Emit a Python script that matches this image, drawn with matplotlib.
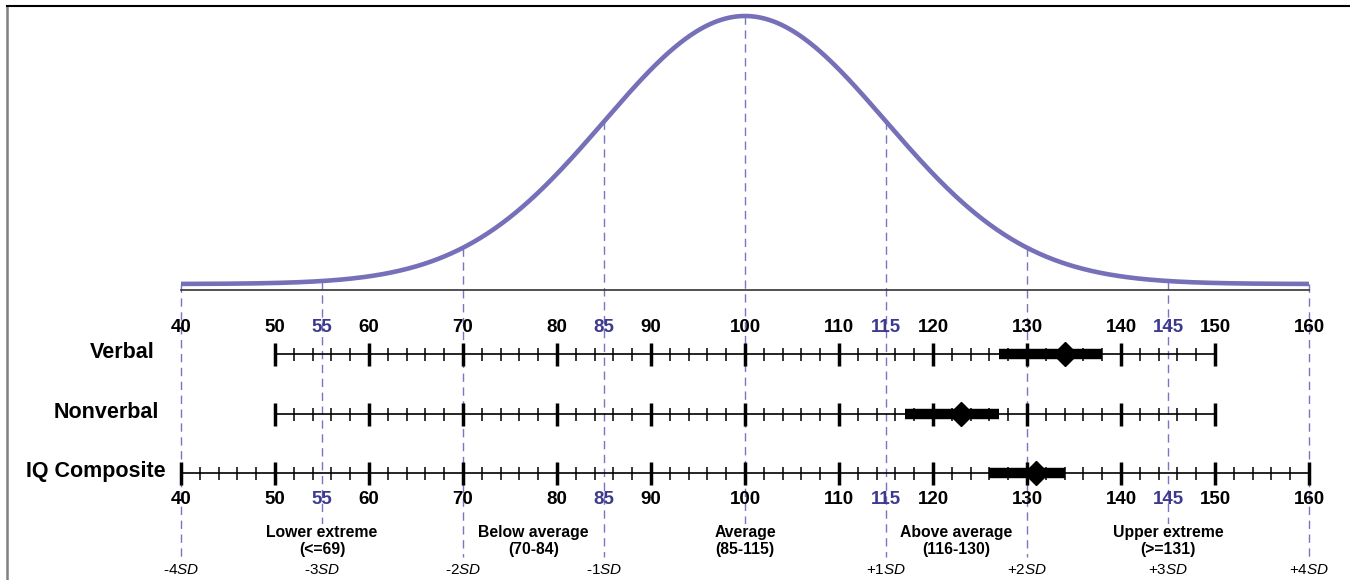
import numpy as np
import matplotlib
matplotlib.use('Agg')
import matplotlib.pyplot as plt

plt.rcParams['font.family'] = ['Liberation Sans', 'DejaVu Sans']
plt.rcParams['mathtext.fontset'] = 'custom'
plt.rcParams['mathtext.rm'] = 'Liberation Sans'
plt.rcParams['mathtext.it'] = 'Liberation Sans:italic'

# datos del grafico
mean_iq = 100
sd_iq = 15
sd_points = [40, 55, 70, 85, 100, 115, 130, 145, 160]
sd_labels = ['\u20104', '\u20103', '\u20102', '\u20101', '', '+1', '+2', '+3', '+4']
tick_labels = [40, 50, 55, 60, 70, 80, 85, 90, 100, 110, 115, 120, 130, 140, 145, 150, 160]
blue_ticks = [55, 85, 115, 145]

rows = ['Verbal', 'Nonverbal', 'IQ Composite']
row_lo = [50, 50, 40]
row_hi = [150, 150, 160]
scores = [134, 123, 131]
ci_lo = [127, 117, 126]
ci_hi = [138, 127, 134]

band_edges = [40, 70, 85, 115, 130, 160]
band_names = ['Lower extreme\n(<=69)', 'Below average\n(70-84)', 'Average\n(85-115)',
              'Above average\n(116-130)', 'Upper extreme\n(>=131)']

# colores
curve_col = '#7670b8'
dash_col = '#7b74c4'
blue_col = '#3d3a8e'

fig = plt.figure(figsize=(13.5, 5.8), dpi=100)
ax = fig.add_axes([0, 0, 1, 1])
px = 9.4  # pixeles por punto de CI
ax.set_xlim(40 - 181 / px, 40 + (1350 - 181) / px)
ax.set_ylim(580, 0)
ax.axis('off')

# marco
ax.plot([7 / 1350, 7 / 1350], [0, 1 - 6 / 580], transform=ax.transAxes, color='#808080', lw=1.8, clip_on=False)
ax.plot([7 / 1350, 1], [1 - 6 / 580, 1 - 6 / 580], transform=ax.transAxes, color='black', lw=1.5, clip_on=False)

# curva normal
base, height = 284, 268
xs = np.linspace(40, 160, 800)
curve = base - height * np.exp(-0.5 * ((xs - mean_iq) / sd_iq) ** 2)
ax.plot(xs, curve, color=curve_col, lw=3.3, solid_capstyle='butt', zorder=3)
ax.plot([40, 160], [290, 290], color='#333333', lw=1.2, zorder=2)

# lineas verticales de SD
for v in sd_points:
    ytop = base - height * np.exp(-0.5 * ((v - mean_iq) / sd_iq) ** 2)
    ax.plot([v, v], [ytop, 557], color=dash_col, lw=1.0, dashes=(6, 4), zorder=1)

# escalas
row_y = [354, 414, 473]
for i, name in enumerate(rows):
    y = row_y[i]
    ax.plot([row_lo[i], row_hi[i]], [y, y], color='black', lw=1.2, zorder=4)
    for t in range(row_lo[i], row_hi[i] + 1, 2):
        if t % 10 == 0:
            ax.plot([t, t], [y - 11.5, y + 11.5], color='black', lw=2.5, solid_capstyle='butt', zorder=4)
        else:
            ax.plot([t, t], [y - 6.5, y + 6.5], color='black', lw=1.1, solid_capstyle='butt', zorder=4)
    ax.plot([ci_lo[i], ci_hi[i]], [y, y], color='black', lw=7.5, solid_capstyle='butt', zorder=5)
    ax.plot(scores[i], y, marker='D', color='black', markersize=12, zorder=6)

ax.text(40 + (155 - 181) / px, row_y[0] - 1, rows[0], ha='right', va='center', fontsize=15.5, fontweight='bold')
ax.text(40 + (159 - 181) / px, row_y[1] - 1, rows[1], ha='right', va='center', fontsize=15.5, fontweight='bold')
ax.text(40 + (166 - 181) / px, row_y[2] - 1, rows[2], ha='right', va='center', fontsize=15.5, fontweight='bold')

# numeros arriba y abajo
for t in tick_labels:
    c = blue_col if t in blue_ticks else 'black'
    ax.text(t, 327, str(t), ha='center', va='center', fontsize=13.5, fontweight='bold', color=c, zorder=7)
    ax.text(t, 499, str(t), ha='center', va='center', fontsize=13.5, fontweight='bold', color=c, zorder=7)

# categorias
for j, name in enumerate(band_names):
    cx = (band_edges[j] + band_edges[j + 1]) / 2
    ax.text(cx, 541, name, ha='center', va='center', fontsize=11.3, fontweight='bold', linespacing=1.15,
            bbox=dict(facecolor='white', edgecolor='none', pad=0.5), zorder=8)

# etiquetas SD
for v, lab in zip(sd_points, sd_labels):
    if lab == '':
        continue
    ax.text(v, 570, r'$\mathrm{' + lab + r'}\mathit{SD}$', ha='center', va='center', fontsize=11, zorder=8)

plt.savefig('out.png', dpi=100)
